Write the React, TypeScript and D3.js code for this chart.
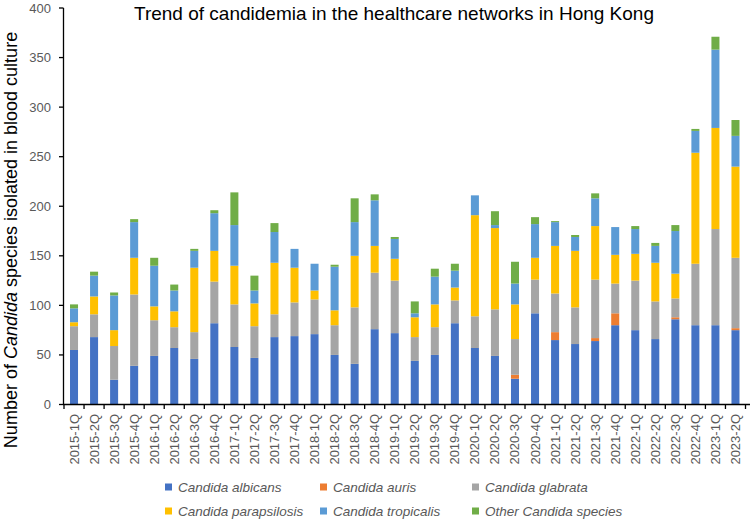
import React from "react";
import * as d3 from "d3";

const quarters = [
  "2015-1Q","2015-2Q","2015-3Q","2015-4Q",
  "2016-1Q","2016-2Q","2016-3Q","2016-4Q",
  "2017-1Q","2017-2Q","2017-3Q","2017-4Q",
  "2018-1Q","2018-2Q","2018-3Q","2018-4Q",
  "2019-1Q","2019-2Q","2019-3Q","2019-4Q",
  "2020-1Q","2020-2Q","2020-3Q","2020-4Q",
  "2021-1Q","2021-2Q","2021-3Q","2021-4Q",
  "2022-1Q","2022-2Q","2022-3Q","2022-4Q",
  "2023-1Q","2023-2Q",
];

const albicans = [55,68,25,39, 49,57,46,82, 58,47,68,69, 71,50,41,76, 72,44,50,82, 57,49,26,92, 65,61,64,80, 75,66,86,80, 80,75];
const auris = [0,0,0,0, 0,0,0,0, 0,0,0,0, 0,0,0,0, 0,0,0,0, 0,0,4,0, 8,0,3,12, 0,0,2,0, 0,2];
const glabrata = [24,23,34,72, 36,21,27,42, 43,32,23,34, 35,30,57,57, 53,24,28,23, 32,47,36,34, 39,37,59,30, 50,38,19,62, 97,71];
const parapsilosis = [4,18,16,37, 14,16,65,31, 39,23,52,35, 9,15,52,27, 22,20,23,13, 102,82,35,22, 48,57,54,29, 27,39,25,112, 102,92];
const tropicalis = [14,21,35,36, 41,21,17,38, 41,13,31,19, 27,44,34,46, 20,4,28,17, 20,3,21,34, 24,14,28,28, 25,17,43,22, 79,31];
const other = [4,4,3,3, 8,6,2,3, 33,15,9,0, 0,2,24,6, 2,12,8,7, 0,14,22,7, 1,2,5,0, 3,3,6,2, 13,16];

const seriesKeys = ["albicans", "auris", "glabrata", "parapsilosis", "tropicalis", "other"];
const seriesLabels = [
  "Candida albicans",
  "Candida auris",
  "Candida glabrata",
  "Candida parapsilosis",
  "Candida tropicalis",
  "Other Candida species",
];
const seriesColors = ["#4472C4", "#ED7D31", "#A5A5A5", "#FFC000", "#5B9BD5", "#70AD47"];
const yTicks = [0, 50, 100, 150, 200, 250, 300, 350, 400];

const W = 750;
const H = 521;
const left = 64;
const right = 745.5;
const top = 8;
const bottom = 404.5;
const FONT = "'Liberation Sans', Arial, sans-serif";

export default function App() {
  const seriesArrays = [albicans, auris, glabrata, parapsilosis, tropicalis, other];
  const rows = quarters.map((q, i) => {
    const r: any = { q };
    seriesKeys.forEach((k, j) => (r[k] = seriesArrays[j][i]));
    return r;
  });
  const stacked = d3.stack().keys(seriesKeys)(rows);

  const x = d3
    .scaleBand<string>()
    .domain(quarters)
    .range([left, right])
    .paddingInner(0.6)
    .paddingOuter(0.3);
  const y = d3.scaleLinear().domain([0, 400]).range([bottom, top]);
  const step = x.step();
  const bw = x.bandwidth();

  const legendX = [165, 320, 472];
  const legendY = [487, 511];

  return (
    <svg
      width={W}
      height={H}
      style={{ position: "absolute", left: 0, top: 0, background: "#fff" }}
      fontFamily={FONT}
    >
      <rect x={0} y={0} width={W} height={H} fill="#fff" />
      <text x={394} y={19.5} textAnchor="middle" fontSize={19} fill="#000">
        Trend of candidemia in the healthcare networks in Hong Kong
      </text>

      {stacked.map((s, si) => (
        <g key={si} fill={seriesColors[si]}>
          {s.map((d: any, i: number) => (
            <rect
              key={i}
              x={x(quarters[i])}
              y={y(d[1])}
              width={bw}
              height={Math.max(0, y(d[0]) - y(d[1]))}
            />
          ))}
        </g>
      ))}

      {/* Y axis */}
      <line x1={63.5} x2={63.5} y1={top} y2={bottom} stroke="#000" strokeWidth={1.3} />
      {yTicks.map((t) => (
        <g key={t}>
          <line x1={59} x2={63.5} y1={y(t)} y2={y(t)} stroke="#000" strokeWidth={1.3} />
          <text
            x={51}
            y={y(t)}
            dy="0.35em"
            textAnchor="end"
            fontSize={13}
            fill="#595959"
          >
            {t}
          </text>
        </g>
      ))}

      {/* X axis */}
      <line x1={63} x2={750} y1={bottom} y2={bottom} stroke="#000" strokeWidth={1.3} />
      {d3.range(quarters.length + 1).map((i) => {
        const xx = left + i * step;
        return (
          <line key={i} x1={xx} x2={xx} y1={bottom} y2={bottom + 4.5} stroke="#000" strokeWidth={1.3} />
        );
      })}
      {quarters.map((q) => {
        const cx = (x(q) as number) + bw / 2;
        return (
          <text
            key={q}
            transform={`translate(${cx + 4.5},414) rotate(-90)`}
            textAnchor="end"
            fontSize={13}
            fill="#595959"
          >
            {q}
          </text>
        );
      })}

      {/* Y label */}
      <text
        transform={`translate(16.5,240) rotate(-90)`}
        textAnchor="middle"
        fontSize={18}
        fill="#000"
      >
        Number of <tspan fontStyle="italic">Candida</tspan> species isolated in blood culture
      </text>

      {/* Legend */}
      {seriesLabels.map((lab, i) => {
        const col = i % 3;
        const row = Math.floor(i / 3);
        const lx = legendX[col];
        const ly = legendY[row];
        return (
          <g key={lab}>
            <rect x={lx} y={ly - 3.5} width={7} height={7} fill={seriesColors[i]} />
            <text
              x={lx + 13}
              y={ly}
              dy="0.35em"
              fontSize={13.5}
              fontStyle="italic"
              fill="#595959"
            >
              {lab}
            </text>
          </g>
        );
      })}
    </svg>
  );
}
